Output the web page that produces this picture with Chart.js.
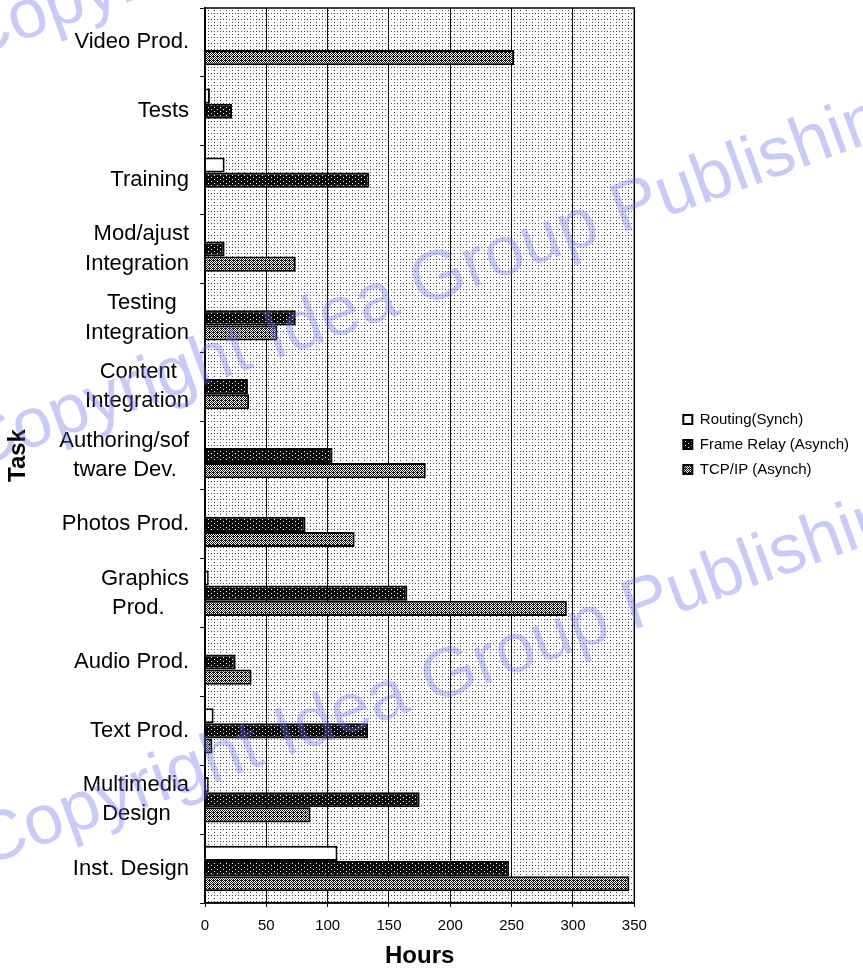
<!DOCTYPE html>
<html>
<head>
<meta charset="utf-8">
<script src="https://cdn.jsdelivr.net/npm/chart.js@4.4.1/dist/chart.umd.min.js"></script>
<style>
  html, body { margin: 0; padding: 0; background: #fff; }
</style>
</head>
<body>
<canvas id="taskChart" width="863" height="975"></canvas>
<script>
// Task labels (top to bottom), padded with spaces so two-line labels sit centred
const taskLabels = [
  "Video Prod.",
  "Tests",
  "Training",
  ["Mod/ajust", "Integration"],
  ["Testing  ", "Integration"],
  ["Content  ", "Integration"],
  ["Authoring/sof", "tware Dev.  "],
  "Photos Prod.",
  ["Graphics", "Prod.    "],
  "Audio Prod.",
  "Text Prod.",
  ["Multimedia", "Design   "],
  "Inst. Design",
];

// Hours per task
const routingSynch = [0, 4, 16, 0, 0, 0, 0, 0, 3, 0, 7, 3, 108];
const frameRelayAsynch = [0, 22, 134, 16, 74, 35, 104, 82, 165, 25, 133, 175, 248];
const tcpIpAsynch = [252, 0, 0, 74, 59, 36, 180, 122, 295, 38, 6, 86, 346];

const hoursMin = 0;
const hoursMax = 350;
const hoursStep = 50;

const FONT = '"Liberation Sans", Arial, sans-serif';

const canvas = document.getElementById("taskChart");
const ctx = canvas.getContext("2d");

// small pixel patterns to imitate the printed fills
function makePattern(w, h, bg, fg, dots) {
  const c = document.createElement("canvas");
  c.width = w;
  c.height = h;
  const g = c.getContext("2d");
  g.fillStyle = bg;
  g.fillRect(0, 0, w, h);
  g.fillStyle = fg;
  dots.forEach(([x, y]) => g.fillRect(x, y, 1, 1));
  return ctx.createPattern(c, "repeat");
}

const stipple = makePattern(6, 6, "#ffffff", "#444444", [[1, 1], [4, 4], [4, 1]]);
const darkFill = makePattern(6, 4, "#0a0a0a", "#ffffff", [[1, 1], [4, 3]]);
const greyFill = makePattern(4, 4, "#ffffff", "#111111", [
  [0, 0], [2, 0], [1, 1], [3, 1], [0, 2], [2, 2], [1, 3], [3, 3], [1, 0],
]);

// no automatic label padding around the plot
function noPad(scale) {
  scale.paddingTop = 0;
  scale.paddingBottom = 0;
  scale.paddingLeft = 0;
  scale.paddingRight = 0;
}

// plot background + frame
const plotBackground = {
  id: "plotBackground",
  beforeDraw(chart) {
    const { ctx, chartArea: a } = chart;
    ctx.save();
    ctx.fillStyle = stipple;
    ctx.fillRect(a.left, a.top, a.right - a.left, a.bottom - a.top);
    ctx.restore();
  },
  afterDatasetsDraw(chart) {
    const { ctx, chartArea: a } = chart;
    ctx.save();
    ctx.strokeStyle = "#000";
    ctx.lineWidth = 1.5;
    ctx.strokeRect(a.left, a.top, a.right - a.left, a.bottom - a.top);
    ctx.restore();
  },
};

// publisher watermark
const watermark = {
  id: "watermark",
  afterDraw(chart) {
    const c = chart.ctx;
    c.save();
    c.fillStyle = "rgba(105, 105, 240, 0.36)";
    c.font = "70px " + FONT;
    c.textBaseline = "middle";
    [[-38, 42], [-33, 451], [-22, 848]].forEach(([x, y]) => {
      c.save();
      c.translate(x, y);
      c.rotate((-20 * Math.PI) / 180);
      c.fillText("Copyright Idea Group Publishing", 0, 0);
      c.restore();
    });
    c.restore();
  },
};

const taskChart = new Chart(ctx, {
  type: "bar",
  data: {
    labels: taskLabels,
    datasets: [
      {
        label: "Routing(Synch)",
        data: routingSynch,
        backgroundColor: "#ffffff",
        borderColor: "#000000",
        borderWidth: 2,
      },
      {
        label: "Frame Relay (Asynch)",
        data: frameRelayAsynch,
        backgroundColor: darkFill,
        borderColor: "#000000",
        borderWidth: 2,
      },
      {
        label: "TCP/IP (Asynch)",
        data: tcpIpAsynch,
        backgroundColor: greyFill,
        borderColor: "#000000",
        borderWidth: 2,
      },
    ],
  },
  options: {
    indexAxis: "y",
    responsive: false,
    animation: false,
    layout: { autoPadding: false, padding: { top: 8, right: 4, bottom: 0, left: 0 } },
    datasets: {
      bar: { categoryPercentage: 0.66, barPercentage: 1.0 },
    },
    scales: {
      x: {
        min: hoursMin,
        max: hoursMax,
        ticks: {
          stepSize: hoursStep,
          color: "#000",
          font: { family: FONT, size: 15 },
          padding: 10,
        },
        grid: { color: "#111", lineWidth: 1, tickLength: 4 },
        border: { color: "#000", width: 1.5 },
        title: {
          display: true,
          text: "Hours",
          color: "#000",
          font: { family: FONT, size: 24, weight: "bold" },
        },
        afterFit(scale) {
          scale.height = 72;
          noPad(scale);
        },
      },
      y: {
        ticks: {
          color: "#000",
          font: { family: FONT, size: 22, lineHeight: 1.33 },
          padding: 11,
        },
        grid: { drawOnChartArea: false, color: "#000", tickLength: 5 },
        border: { color: "#000", width: 1.5 },
        title: {
          display: true,
          text: "Task",
          color: "#000",
          font: { family: FONT, size: 24, weight: "bold" },
        },
        afterFit(scale) {
          scale.width = 205;
          noPad(scale);
        },
      },
      // empty spacer between plot and legend
      gap: {
        type: "linear",
        axis: "y",
        position: "right",
        grid: { display: false },
        ticks: { display: false },
        border: { display: false },
        afterFit(scale) {
          scale.width = 39;
          noPad(scale);
        },
      },
    },
    plugins: {
      legend: {
        position: "right",
        align: "start",
        maxWidth: 260,
        title: { display: true, text: "", font: { size: 10, lineHeight: 1 }, padding: { top: 384, bottom: 0 } },
        labels: {
          boxWidth: 9,
          boxHeight: 9,
          padding: 10,
          color: "#000",
          font: { family: FONT, size: 15 },
        },
      },
      tooltip: { enabled: false },
    },
  },
  plugins: [plotBackground, watermark],
});
</script>
</body>
</html>
